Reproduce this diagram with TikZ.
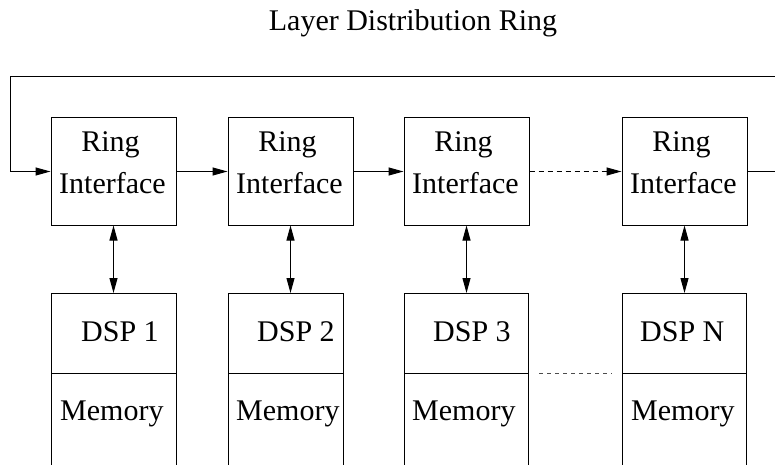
\documentclass[tikz,border=0pt]{standalone}
\usepackage{fontspec}
\setmainfont{Liberation Serif}
\usetikzlibrary{arrows.meta,positioning}

\tikzset{
  wire/.style={line width=1pt, draw=black},
  tip/.style={-{Triangle[length=15pt,width=8pt]}},
  bothtips/.style={{Triangle[length=15pt,width=8pt]}-{Triangle[length=15pt,width=8pt]}},
  ringbox/.style={draw=black, line width=1pt, minimum width=125pt, minimum height=107pt, inner sep=0pt},
  dspbox/.style={draw=black, line width=1pt, minimum height=80pt, inner sep=0pt, outer sep=0pt},
  txt/.style={font=\fontsize{30}{36}\selectfont, inner sep=0pt, anchor=base},
  ltxt/.style={font=\fontsize{30}{36}\selectfont, inner sep=0pt, anchor=base west},
}

\begin{document}
\begin{tikzpicture}[x=1pt, y=-1pt]
  \useasboundingbox (0,0) rectangle (775,465);
  \clip (0,0) rectangle (775,465);

  % title
  \node[txt] (title) at (413,31) {Layer Distribution Ring};

  % ring interfaces
  \node[ringbox] (r1) at (113.5,171.5) {};
  \node[ringbox] (r2) at (290.5,171.5) {};
  \node[ringbox] (r3) at (466.5,171.5) {};
  \node[ringbox] (r4) at (684.5,171.5) {};

  \foreach \n/\x in {1/113.5, 2/290.5, 3/466.5, 4/684.5} {
    \node[txt] (ring\n) at (\x-3,152) {Ring};
    \node[txt] (intf\n) at (\x-1,193) {Interface};
  }

  % DSP boxes (upper part closed, memory part runs past the bottom edge)
  \node[dspbox, minimum width=125pt] (d1) at (113.5,333) {};
  \node[dspbox, minimum width=115pt] (d2) at (285.5,333) {};
  \node[dspbox, minimum width=124pt] (d3) at (466,333) {};
  \node[dspbox, minimum width=124pt] (d4) at (684,333) {};
  \foreach \n in {1,2,3,4} {
    \draw[wire] (d\n.south west) -- ++(0,120);
    \draw[wire] (d\n.south east) -- ++(0,120);
  }

  \node[ltxt] (dsp1) at (81,341) {DSP 1};
  \node[ltxt] (dsp2) at (257,341) {DSP 2};
  \node[ltxt] (dsp3) at (433,341) {DSP 3};
  \node[ltxt] (dsp4) at (640,341) {DSP N};
  \node[ltxt] (mem1) at (60,420) {Memory};
  \node[ltxt] (mem2) at (236,420) {Memory};
  \node[ltxt] (mem3) at (412,420) {Memory};
  \node[ltxt] (mem4) at (631,420) {Memory};

  % ring connections
  \draw[wire, tip] (r1.east) -- (r2.west);
  \draw[wire, tip] (r2.east) -- (r3.west);
  \draw[wire, tip, dash pattern=on 5pt off 4pt] (r3.east) -- (r4.west);

  % return path of the ring
  \coordinate (back) at (785,77);
  \coordinate (left) at (10,77);
  \draw[wire, tip] (r4.east) -- (r4.east -| back) -- (back) -- (left)
        -- (left |- r1.west) -- (r1.west);

  % interface <-> DSP links
  \foreach \n in {1,2,3,4} {
    \draw[wire, bothtips] (r\n.south) -- (r\n.south |- d\n.north);
  }

  % continuation between DSP 3 and DSP N
  \draw[line width=0.8pt, draw=black!70, dash pattern=on 4pt off 4pt]
    ([xshift=11pt]d3.south east) -- ([xshift=-10pt]d4.south west);
\end{tikzpicture}
\end{document}
